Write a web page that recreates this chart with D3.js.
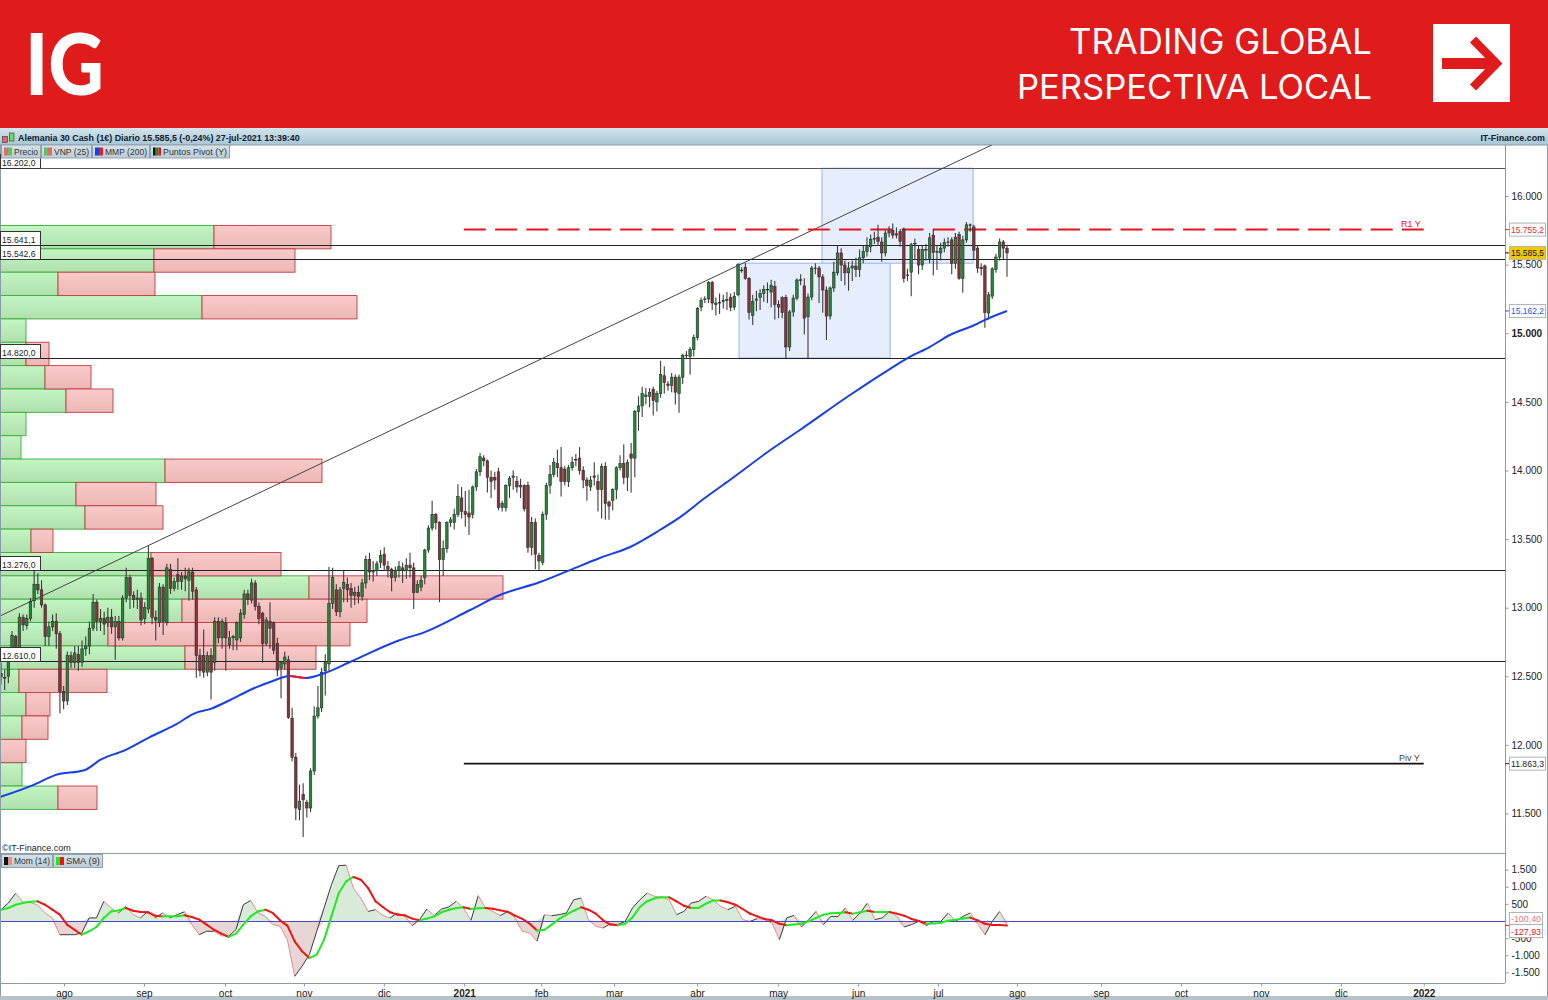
<!DOCTYPE html>
<html>
<head>
<meta charset="utf-8">
<style>
html, body { margin: 0; padding: 0; background: #fff; }
svg { display: block; }
text { font-family: "Liberation Sans", Arial, sans-serif; }
</style>
</head>
<body>
<div class="svgHolder"></div>
<script src="https://cdn.jsdelivr.net/npm/d3@7"></script>
<script>
// daily candles, first one is index -18, 10 per row
const firstCandle = -18
const opens = [
12520,12490,12500,12640,12790,12700,12930,12870,12920,13050,
13170,13130,13020,12790,12860,12900,12810,12390,12320,12650,
12600,12660,12600,12700,12720,12850,13040,12900,12920,12890,
12930,12860,12900,12780,13070,13220,13090,13060,13070,12920,
12990,13360,12930,12890,13150,12890,13280,13140,13240,13190,
13230,13200,13260,13130,12650,12650,12530,12650,12600,12900,
12780,12890,12730,12780,12765,12780,12950,13100,13055,13180,
13010,12960,12740,12900,12890,12740,12560,12590,12620,12195,
11910,11530,11640,11580,11540,11810,12210,12270,12540,12590,
13030,13130,12970,13140,13170,13140,13090,13110,13080,13180,
13350,13260,13270,13330,13390,13300,13280,13220,13270,13290,
13270,13310,13290,13110,13150,13220,13420,13580,13680,13620,
13350,13430,13620,13620,13680,13800,13700,13690,13680,13880,
13990,14090,14070,13950,13950,13990,13730,13730,13890,13950,
13920,13880,13890,13890,13440,13620,13380,13330,13680,13890,
13970,14050,14020,14010,13920,14020,14080,14090,14000,13930,
13880,13960,13920,13860,14030,13770,13780,13860,14020,14050,
13950,14120,14090,14430,14470,14540,14540,14590,14500,14560,
14690,14630,14620,14680,14560,14680,14840,14830,14880,14970,
15190,15250,15250,15370,15210,15220,15230,15240,15260,15190,
15280,15460,15480,15400,15130,15240,15260,15290,15320,15300,
15340,15210,15260,15260,14900,15155,15256,15390,15345,15120,
15264,15475,15475,15410,15315,15125,15330,15440,15585,15497,
15440,15475,15490,15465,15550,15595,15630,15690,15700,15665,
15585,15730,15750,15725,15740,15755,15425,15445,15655,15610,
15497,15605,15535,15715,15595,15585,15620,15665,15680,15510,
15720,15400,15680,15790,15775,15620,15480,15490,15147,15270,
15465,15555,15665,15620
]
const closes = [
12495,12489,12633,12799,12697,12931,12874,12920,13046,13171,
13130,13020,12790,12860,12900,12810,12390,12320,12650,12600,
12670,12600,12700,12720,12850,13040,12900,12920,12880,12930,
12860,12900,12780,13070,13220,13090,13060,13070,12910,13000,
13360,12930,12910,13150,12900,13290,13140,13190,13190,13230,
13210,13260,13120,12650,12540,12530,12650,12530,12900,12780,
12900,12780,12780,12790,12890,12960,13100,13060,13180,13010,
12920,12740,12910,12850,12690,12545,12600,12640,12200,11910,
11540,11590,11600,11540,11810,12210,12270,12530,12600,13030,
13220,12970,13130,13185,13130,13090,13110,13080,13180,13350,
13260,13270,13320,13380,13310,13280,13220,13270,13300,13270,
13310,13290,13110,13170,13200,13420,13580,13680,13620,13350,
13430,13620,13640,13680,13810,13700,13680,13660,13880,13990,
14100,14070,13950,13920,13930,13730,13760,13890,13940,13960,
13880,13890,13720,13440,13620,13390,13340,13680,13890,13970,
14060,14020,13920,13920,14020,14060,14080,14000,13930,13890,
13930,13950,13860,14030,13760,13740,13860,14020,14050,13950,
14060,14090,14430,14470,14560,14550,14570,14510,14560,14700,
14640,14620,14680,14570,14680,14840,14840,14880,14970,15180,
15240,15245,15370,15220,15220,15225,15240,15245,15190,15270,
15500,15460,15400,15150,15230,15250,15290,15320,15320,15350,
15210,15190,15150,14900,15155,15256,15388,15385,15110,15264,
15475,15475,15410,15315,15125,15330,15445,15585,15497,15440,
15475,15490,15465,15550,15595,15630,15685,15690,15670,15585,
15730,15745,15715,15715,15670,15400,15425,15645,15655,15497,
15610,15610,15695,15590,15595,15620,15660,15665,15510,15700,
15400,15680,15790,15785,15605,15475,15470,15150,15280,15470,
15555,15665,15620,15585.5
]
const highs = [
12600,12550,12680,12830,12800,12960,12950,12950,13070,13276,
13250,13200,13030,12900,12950,12960,12830,12430,12680,12680,
12720,12720,12760,12790,12900,13100,13060,12990,12970,13000,
12990,12940,12940,13090,13290,13240,13120,13130,13110,13040,
13450,13370,12980,13180,13170,13320,13320,13220,13360,13260,
13290,13290,13290,13150,12700,12840,12680,12705,12930,12930,
12920,12930,12830,12800,12900,12990,13130,13130,13210,13200,
13040,12970,12930,13040,12900,12780,12610,12680,12650,12270,
11940,11710,11720,11600,11830,12280,12430,12560,12660,13296,
13290,13170,13150,13270,13220,13180,13150,13160,13210,13380,
13400,13340,13340,13420,13440,13340,13290,13300,13340,13330,
13360,13400,13330,13200,13230,13430,13600,13780,13690,13630,
13490,13630,13660,13720,13900,13880,13850,13860,13890,14010,
14128,14110,14080,14000,13990,14020,13780,13900,13960,14000,
13960,13940,13900,13920,13660,13650,13400,13700,13910,14040,
14090,14150,14170,14030,14040,14100,14120,14170,14030,13950,
13960,14060,13970,14050,14060,13780,13870,14030,14110,14190,
14080,14200,14440,14540,14610,14600,14600,14610,14580,14800,
14760,14650,14710,14700,14700,14850,14870,14900,14990,15190,
15260,15270,15380,15380,15260,15290,15280,15300,15290,15300,
15510,15480,15510,15410,15280,15310,15320,15350,15370,15390,
15380,15240,15270,15280,15170,15280,15400,15430,15400,15290,
15490,15510,15490,15430,15340,15340,15520,15640,15620,15530,
15520,15530,15550,15610,15640,15700,15720,15740,15790,15700,
15750,15780,15800,15770,15760,15770,15470,15660,15690,15640,
15640,15650,15730,15760,15640,15660,15690,15700,15700,15730,
15740,15710,15810,15800,15790,15640,15510,15500,15300,15480,
15580,15690,15680,15640
]
const lows = [
12440,12400,12450,12620,12650,12690,12830,12840,12900,13000,
13100,13000,12720,12720,12830,12700,12230,12260,12290,12560,
12560,12540,12570,12650,12660,12830,12830,12830,12800,12860,
12810,12620,12760,12760,13040,12990,13000,12990,12870,12880,
12960,12880,12760,12860,12800,12870,13100,13120,13130,13130,
13120,13050,13060,12490,12500,12490,12500,12330,12540,12740,
12700,12540,12700,12690,12690,12750,12920,13020,13030,12980,
12880,12600,12720,12700,12660,12500,12340,12550,12190,11880,
11450,11450,11328,11470,11510,11780,12190,12240,12360,12540,
12990,12940,12930,13040,13040,13000,13020,13030,13050,13140,
13200,13190,13230,13290,13270,13220,13120,13190,13220,13180,
13210,13220,12990,13110,13120,13170,13400,13560,13570,13040,
13230,13400,13590,13570,13660,13650,13590,13530,13650,13850,
13960,14030,13840,13800,13860,13710,13700,13700,13800,13860,
13840,13800,13700,13400,13380,13280,13270,13310,13640,13830,
13950,13950,13810,13890,13880,14000,14030,13970,13870,13780,
13850,13890,13700,13650,13640,13640,13710,13790,14000,13900,
13850,13840,13950,14290,14390,14480,14460,14400,14430,14530,
14560,14580,14570,14480,14420,14630,14810,14700,14830,14950,
15160,15220,15220,15170,15130,15140,15180,15170,15160,15170,
15270,15440,15390,15100,15060,15160,15170,15230,15220,15190,
15100,15110,15110,14820,14870,15120,15240,15350,14990,14820,
15240,15430,15220,15150,14950,15100,15300,15420,15380,15350,
15310,15380,15410,15410,15510,15560,15590,15650,15640,15520,
15560,15700,15690,15690,15630,15370,15380,15270,15540,15430,
15460,15530,15510,15420,15460,15530,15590,15630,15430,15470,
15390,15295,15660,15740,15540,15440,15420,15040,15100,15250,
15440,15530,15540,15412
]

// VNP (25) rows from the top of the profile down, bar lengths
const profileTop = 15785
const profileBottom = 11530
const volBuy = [214,154,58,202,26,26,45,66,26,21,165,76,85,31,151,309,182,108,185,19,26,22,0,22,58]
const volSell = [117,141,97,155,0,23,46,47,0,0,157,80,78,22,130,194,185,242,131,88,24,26,26,0,39]

// MMP (200)
const maIndex = [-18.3,-9.3,-3.3,4.8,8.9,15.7,22.4,29.2,34.7,38.7,44.2,49.6,55,60.4,64.5,69.9,76.7,90.3,97,109.3,117.4,128.3,136.4,144.5,152.7,160.8,166.3,173,179.8,190.8,198.8,212.4,223.2,228.6,234,239.5,246.2,248.9,255]
const maValues = [11620,11707,11780,11817,11890,11962,12057,12145,12232,12261,12327,12400,12458,12502,12487,12524,12604,12764,12822,12983,13092,13187,13274,13362,13442,13566,13660,13799,13930,14149,14295,14550,14739,14827,14899,14987,15060,15096,15162.2]

// horizontal levels with the box on the left
const levels = [16202, 15641.1, 15542.6, 14820, 13276, 12610]
// pivots
const pivotNames = ["R1 Y", "Piv Y"]
const pivotValues = [15755.2, 11863.3]
const pivotRange = [108.5, 369]
// trend line ends: index, price
const trendIndex = [-17.4, 251.8]
const trendPrice = [12939, 16372]
// shaded boxes: index from, index to, price low, price high
const boxStart = [183.2, 205.7]
const boxEnd = [224.2, 246.7]
const boxLow = [14820, 15510]
const boxHigh = [15510, 16202]

// Mom (14) and SMA (9), read every second candle or so
const momValues = [
330,525,815,545,545,465,235,90,-400,-400,-400,-350,90,90,575,380,235,430,185,90,
280,90,235,90,185,270,-105,-400,-300,-300,-430,-445,-255,475,600,235,135,-105,-155,-545,
-1615,-1320,-980,-300,380,1060,1615,1630,960,670,280,330,165,90,235,
135,-135,40,350,155,350,410,575,380,20,740,380,280,155,280,90,-300,-350,-590,185,
155,185,235,620,670,40,-155,-205,-80,-105,-10,380,620,815,720,700,620,185,280,525,
575,720,620,430,330,430,40,-10,70,40,-60,-545,90,165,-175,40,280,-105,135,135,
380,20,235,525,40,90,280,135,-175,-105,-10,-135,-10,-10,235,-10,135,235,-80,-400,
-10,280,-100.4
]
const smaValues = [
330,380,475,525,565,575,475,330,185,-105,-255,-400,-300,-175,90,280,310,380,300,260,
255,155,135,135,135,165,115,40,-105,-255,-370,-465,-370,-105,135,280,330,235,20,-135,
-595,-885,-1080,-980,-545,135,815,1155,1285,1205,960,575,410,255,185,
165,70,20,70,135,255,330,380,400,350,370,380,360,310,270,155,60,-80,-280,-255,
-105,60,185,300,400,330,215,20,-105,-125,-80,105,410,575,660,690,690,575,445,380,
380,505,600,600,545,475,350,215,135,60,20,-80,-125,-100,-80,-10,90,185,225,235,
255,215,255,300,260,260,260,215,155,60,0,-80,-70,-50,10,40,70,100,20,-80,
-115,-120,-127.93
]

// axes
const priceTicks = [11500,12000,12500,13000,13500,14000,14500,15000,15500,16000]
const momTicks = [-1500,-1000,-500,500,1000,1500]
const monthLabels = ["ago","sep","oct","nov","dic","2021","feb","mar","abr","may","jun","jul","ago","sep","oct","nov","dic","2022"]
const monthIndex = [0,21.7,43.7,65.1,86.8,108.6,129.5,149.3,171.8,193.8,215.5,237.2,258.6,281.4,303.1,324.8,346.5,369]

const wd = 1548
const ht = 1000
const plotLeft = 1
const plotRight = 1505
const mainTop = 145
const mainBottom = 853
const momBottom = 983
const axisCol = "#8a9ba8"

const fmt = d3.formatLocale({decimal: ",", thousands: ".", grouping: [3], currency: ["", ""], minus: "-"})
const fmtInt = fmt.format(",.0f")
const fmt1 = fmt.format(",.1f")
const fmt2 = fmt.format(",.2f")

const svg = d3.select(".svgHolder").append("svg")
.attr("width", wd)
.attr("height", ht)
.attr("viewBox", "0 0 " + wd + " " + ht)

const defs = svg.append("defs")
function vGrad(id, a, b) {
  const g = defs.append("linearGradient").attr("id", id).attr("x1", 0).attr("x2", 0).attr("y1", 0).attr("y2", 1)
  g.append("stop").attr("offset", "0%").attr("stop-color", a)
  g.append("stop").attr("offset", "100%").attr("stop-color", b)
}
vGrad("buyGrad", "#c2f6c2", "#b0dfae")
vGrad("sellGrad", "#fbcaca", "#ebb6b6")
vGrad("titleGrad", "#d4e4ec", "#a6c6d6")
vGrad("btnGrad", "#d6e2e8", "#bccdd6")

defs.append("clipPath").attr("id", "mainClip").append("rect")
.attr("x", plotLeft).attr("y", mainTop).attr("width", plotRight - plotLeft).attr("height", mainBottom - mainTop)
defs.append("clipPath").attr("id", "momClip").append("rect")
.attr("x", plotLeft).attr("y", mainBottom).attr("width", plotRight - plotLeft).attr("height", momBottom - mainBottom)

// scales
const x = d3.scaleLinear().domain([0, 369]).range([64, 64 + 369 * 3.685])
const candleShift = 0.9 // candles sit a bit right of the month ticks
const y = d3.scaleLinear().domain([11500, 16000]).range([813.5, 196])
const yMom = d3.scaleLinear().domain([-1500, 1500]).range([972.4, 869.6])
const rowScale = d3.scaleBand().domain(d3.range(volBuy.length)).range([y(profileTop), y(profileBottom)])
const volX = d3.scaleLinear().domain([0, 600]).range([0, 600])

// header
svg.append("rect").attr("width", wd).attr("height", 128).attr("fill", "#e01b1c")
svg.append("text").text("IG")
.attr("x", 25).attr("y", 95)
.attr("textLength", 79).attr("lengthAdjust", "spacingAndGlyphs")
.style("font-family", "Lato").style("font-weight", 900).style("font-size", "85px")
.attr("fill", "#fff")
svg.append("text").text("TRADING GLOBAL")
.attr("x", 1372).attr("y", 54).attr("text-anchor", "end")
.style("font-family", "Inter").style("font-weight", 400).style("font-size", "34.8px")
.attr("fill", "#fff")
svg.append("text").text("PERSPECTIVA LOCAL")
.attr("x", 1372).attr("y", 98.5).attr("text-anchor", "end")
.style("font-family", "Inter").style("font-weight", 400).style("font-size", "34.6px")
.attr("fill", "#fff")
svg.append("rect").attr("x", 1433).attr("y", 24).attr("width", 77).attr("height", 78).attr("fill", "#fff")
svg.append("path").attr("d", "M1442 63.5H1494").attr("stroke", "#e01b1c").attr("stroke-width", 11).attr("fill", "none")
svg.append("path").attr("d", "M1473 39.5L1496.5 63.5L1473 87.5").attr("stroke", "#e01b1c").attr("stroke-width", 8.5).attr("fill", "none")

// title bar
svg.append("rect").attr("y", 128).attr("width", wd).attr("height", 17).attr("fill", "url(#titleGrad)")
svg.append("line").attr("x1", 0).attr("x2", wd).attr("y1", 145).attr("y2", 145).attr("stroke", axisCol)
svg.append("rect").attr("x", 2.5).attr("y", 136.5).attr("width", 5).attr("height", 6).attr("fill", "#f06060").attr("stroke", "#333").attr("stroke-width", 0.6)
svg.append("rect").attr("x", 9.5).attr("y", 133).attr("width", 4.5).attr("height", 8).attr("fill", "#60e060").attr("stroke", "#333").attr("stroke-width", 0.6)
svg.append("text").text("Alemania 30 Cash (1€) Diario 15.585,5 (-0,24%) 27-jul-2021 13:39:40")
.attr("x", 18).attr("y", 140.5).style("font-weight", 700).style("font-size", "8.9px").attr("fill", "#10202c")
svg.append("text").text("IT-Finance.com")
.attr("x", 1545).attr("y", 140.5).attr("text-anchor", "end").style("font-weight", 700).style("font-size", "8.9px").attr("fill", "#10202c")

// plot groups, back to front
const main = svg.append("g").attr("clip-path", "url(#mainClip)")
const profileGroup = main.append("g")
const boxGroup = main.append("g")
const lineGroup = main.append("g")
const candleGroup = main.append("g")
const maGroup = main.append("g")

// volume profile
const rows = volBuy.map((d, i) => ({i: i, buy: d, sell: volSell[i]}))
profileGroup.selectAll(".buy").data(rows.filter(d => d.buy > 0)).enter().append("rect")
.attr("x", plotLeft - 2)
.attr("y", d => rowScale(d.i))
.attr("width", d => volX(d.buy) + 1)
.attr("height", rowScale.bandwidth())
.attr("fill", "url(#buyGrad)").attr("stroke", "#3aac3a").attr("stroke-width", 0.9)
profileGroup.selectAll(".sell").data(rows.filter(d => d.sell > 0)).enter().append("rect")
.attr("x", d => plotLeft - 1 + volX(d.buy))
.attr("y", d => rowScale(d.i))
.attr("width", d => volX(d.sell))
.attr("height", rowScale.bandwidth())
.attr("fill", "url(#sellGrad)").attr("stroke", "#bf3c3c").attr("stroke-width", 0.9)

// shaded boxes
boxGroup.selectAll("rect").data(boxStart.map((d, i) => i)).enter().append("rect")
.attr("x", i => x(boxStart[i]))
.attr("y", i => y(boxHigh[i]))
.attr("width", i => x(boxEnd[i]) - x(boxStart[i]))
.attr("height", i => y(boxLow[i]) - y(boxHigh[i]))
.attr("fill", "#e6edfd").attr("stroke", "#a3c1f4").attr("stroke-width", 1.2)

// candles
const candles = closes.map((d, i) => ({k: firstCandle + i + candleShift, o: opens[i], c: d, h: highs[i], l: lows[i]}))
candleGroup.selectAll("line").data(candles).enter().append("line")
.attr("x1", d => x(d.k)).attr("x2", d => x(d.k))
.attr("y1", d => y(d.h)).attr("y2", d => y(d.l))
.attr("stroke", "#3c3c3c").attr("stroke-width", 1.1)
candleGroup.selectAll("rect").data(candles).enter().append("rect")
.attr("x", d => x(d.k) - 1.25)
.attr("y", d => y(Math.max(d.o, d.c)))
.attr("width", 2.5)
.attr("height", d => Math.max(Math.abs(y(d.o) - y(d.c)), 0.6))
.attr("fill", d => d.c >= d.o ? "#1f8a32" : "#8b3038")
.attr("stroke", "#2c2c2c").attr("stroke-width", 0.6)

// horizontal levels
lineGroup.selectAll(".level").data(levels).enter().append("line")
.attr("x1", plotLeft).attr("x2", plotRight)
.attr("y1", d => Math.round(y(d)) + 0.5).attr("y2", d => Math.round(y(d)) + 0.5)
.attr("stroke", (d, i) => i == 0 ? "#555" : "#222").attr("stroke-width", 1)

// trend line
lineGroup.append("line")
.attr("x1", x(trendIndex[0])).attr("y1", y(trendPrice[0]))
.attr("x2", x(trendIndex[1])).attr("y2", y(trendPrice[1]))
.attr("stroke", "#444").attr("stroke-width", 1)

// pivots
lineGroup.append("line")
.attr("x1", x(pivotRange[0])).attr("x2", x(pivotRange[1]))
.attr("y1", y(pivotValues[0])).attr("y2", y(pivotValues[0]))
.attr("stroke", "#e8141c").attr("stroke-width", 2).attr("stroke-dasharray", "22,9.27")
lineGroup.append("line")
.attr("x1", x(pivotRange[0])).attr("x2", x(pivotRange[1]))
.attr("y1", y(pivotValues[1])).attr("y2", y(pivotValues[1]))
.attr("stroke", "#111").attr("stroke-width", 1.8)
lineGroup.append("text").text(pivotNames[0])
.attr("x", x(pivotRange[1]) - 3).attr("y", y(pivotValues[0]) - 3).attr("text-anchor", "end")
.style("font-size", "9px").attr("fill", "#e8141c")
lineGroup.append("text").text(pivotNames[1])
.attr("x", x(pivotRange[1]) - 4).attr("y", y(pivotValues[1]) - 2.5).attr("text-anchor", "end")
.style("font-size", "9px").attr("fill", "#444")

// MMP line, red where it falls
const maPts = maValues.map((d, i) => ({k: maIndex[i] + candleShift, v: d}))
const maLine = d3.line().x(d => x(d.k)).y(d => y(d.v)).curve(d3.curveMonotoneX)
maGroup.append("path").attr("d", maLine(maPts)).attr("fill", "none").attr("stroke", "#1740e6").attr("stroke-width", 2)
for (let i = 1; i < maPts.length; i++) {
  if (maPts[i].v < maPts[i - 1].v) {
    maGroup.append("path").attr("d", maLine([maPts[i - 1], maPts[i]])).attr("fill", "none").attr("stroke", "#ee1c1c").attr("stroke-width", 2)
  }
}

main.append("text").text("©IT-Finance.com")
.attr("x", 2).attr("y", 851).style("font-size", "9px").attr("fill", "#222")

// frame + price axis
svg.append("line").attr("x1", plotRight + 0.5).attr("x2", plotRight + 0.5).attr("y1", mainTop).attr("y2", momBottom).attr("stroke", axisCol)
svg.append("line").attr("x1", 0.5).attr("x2", 0.5).attr("y1", mainTop).attr("y2", ht).attr("stroke", axisCol)
svg.append("line").attr("x1", wd - 0.5).attr("x2", wd - 0.5).attr("y1", mainTop).attr("y2", ht).attr("stroke", axisCol)
svg.append("line").attr("x1", 0).attr("x2", plotRight).attr("y1", mainBottom + 0.5).attr("y2", mainBottom + 0.5).attr("stroke", axisCol)
svg.append("line").attr("x1", 0).attr("x2", plotRight).attr("y1", momBottom + 0.5).attr("y2", momBottom + 0.5).attr("stroke", axisCol)
svg.append("rect").attr("y", 996).attr("width", wd).attr("height", 4).attr("fill", "#b4c2ca")

function styleAxis(g) {
  g.select(".domain").remove()
  g.selectAll("line").attr("stroke", axisCol)
  g.selectAll("text").style("font-family", "Liberation Sans").style("font-size", "10px").attr("fill", "#222")
}

svg.append("g").attr("transform", "translate(" + (plotRight + 0.5) + ",0)")
.call(d3.axisRight(y).tickValues(priceTicks).tickFormat(fmtInt).tickSize(3).tickPadding(3))
.call(styleAxis)
.selectAll("text").style("font-weight", d => d == 15000 ? 700 : 400)

svg.append("g").attr("transform", "translate(" + (plotRight + 0.5) + ",0)")
.call(d3.axisRight(yMom).tickValues(momTicks).tickFormat(fmtInt).tickSize(3).tickPadding(3))
.call(styleAxis)

svg.append("g").attr("transform", "translate(0," + (momBottom + 0.5) + ")")
.call(d3.axisBottom(x).tickValues(monthIndex).tickFormat((d, i) => monthLabels[i]).tickSize(3).tickPadding(3))
.call(styleAxis)
.selectAll("text").style("font-weight", (d, i) => monthLabels[i].length == 4 ? 700 : 400)

// value boxes on both sides
function valueBox(bx, by, w, h, label, txtCol, bg, stroke, txtW) {
  svg.append("rect").attr("x", bx).attr("y", by).attr("width", w).attr("height", h)
  .attr("fill", bg).attr("stroke", stroke).attr("stroke-width", 1)
  svg.append("text").text(label).attr("x", bx + 1.5).attr("y", by + h - 3)
  .attr("textLength", txtW).attr("lengthAdjust", "spacingAndGlyphs")
  .style("font-size", "9.2px").attr("fill", txtCol)
}
levels.forEach(d => {
  const yy = Math.round(y(d))
  valueBox(0.5, yy - 13.5, 40, 14, fmt1(d), "#222", "#fff", "#333", 33.5)
})

valueBox(1509.5, y(15755.2) - 6.5, 36, 13, fmt1(15755.2), "#ee2c2c", "#fff", "#a9b6bf", 33)
valueBox(1509.5, y(15585.5) - 6.5, 36, 13, fmt1(15585.5), "#111", "#f6c800", "#a9b6bf", 33)
valueBox(1509.5, y(15162.2) - 6.5, 36, 13, fmt1(15162.2), "#2a55e6", "#fff", "#a9b6bf", 33)
valueBox(1509.5, y(11863.3) - 6.5, 36, 13, fmt1(11863.3), "#222", "#fff", "#a9b6bf", 33)
svg.append("line").attr("x1", plotRight).attr("x2", plotRight + 4).attr("y1", y(15755.2)).attr("y2", y(15755.2)).attr("stroke", "#ee2c2c")
svg.append("line").attr("x1", plotRight).attr("x2", plotRight + 4).attr("y1", y(15585.5)).attr("y2", y(15585.5)).attr("stroke", "#111")
svg.append("line").attr("x1", plotRight).attr("x2", plotRight + 4).attr("y1", y(15162.2)).attr("y2", y(15162.2)).attr("stroke", "#2a55e6")
svg.append("line").attr("x1", plotRight).attr("x2", plotRight + 4).attr("y1", y(11863.3)).attr("y2", y(11863.3)).attr("stroke", "#222")

// legend buttons
function legendBtn(bx, by, w, label, swatches) {
  svg.append("rect").attr("x", bx + 0.5).attr("y", by + 0.5).attr("width", w).attr("height", 13)
  .attr("fill", "url(#btnGrad)").attr("stroke", "#8fa2ae")
  swatches.forEach((c, i) => {
    const sw = 8 / swatches.length
    svg.append("rect").attr("x", bx + 3 + i * sw).attr("y", by + 3).attr("width", sw).attr("height", 8).attr("fill", c)
  })
  svg.append("text").text(label).attr("x", bx + 13).attr("y", by + 10)
  .attr("textLength", w - 15).attr("lengthAdjust", "spacingAndGlyphs")
  .style("font-size", "9.5px").attr("fill", "#333")
}
legendBtn(1, 144.5, 39, "Precio", ["#e86868", "#58c468"])
legendBtn(41, 144.5, 50, "VNP (25)", ["#58c468", "#e86868"])
legendBtn(92, 144.5, 57, "MMP (200)", ["#1740e6", "#ee1c1c"])
legendBtn(150, 144.5, 79, "Puntos Pivot (Y)", ["#111", "#1c8c2c", "#e01b1c"])

// momentum panel
const momK = momValues.map((d, i) => firstCandle + candleShift + i * 273 / (momValues.length - 1))
const momPts = momValues.map((d, i) => ({k: momK[i], v: d}))
const smaPts = smaValues.map((d, i) => ({k: momK[i], v: d}))
const momGroup = svg.append("g").attr("clip-path", "url(#momClip)")

const areaUp = d3.area().x(d => x(d.k)).y0(yMom(0)).y1(d => yMom(Math.max(d.v, 0)))
const areaDn = d3.area().x(d => x(d.k)).y0(yMom(0)).y1(d => yMom(Math.min(d.v, 0)))
momGroup.append("path").attr("d", areaUp(momPts)).attr("fill", "#d8ebd8")
momGroup.append("path").attr("d", areaDn(momPts)).attr("fill", "#e8d6d6")

const lineMom = d3.line().x(d => x(d.k)).y(d => yMom(d.v))
for (let i = 1; i < momPts.length; i++) {
  momGroup.append("path").attr("d", lineMom([momPts[i - 1], momPts[i]])).attr("fill", "none")
  .attr("stroke", momPts[i].v >= momPts[i - 1].v ? "#3a3a3a" : "#e48e8e").attr("stroke-width", 1)
}
momGroup.append("line").attr("x1", plotLeft).attr("x2", plotRight)
.attr("y1", Math.floor(yMom(0)) + 0.5).attr("y2", Math.floor(yMom(0)) + 0.5)
.attr("stroke", "#4a4ac8").attr("stroke-width", 1)
for (let i = 1; i < smaPts.length; i++) {
  momGroup.append("path").attr("d", lineMom([smaPts[i - 1], smaPts[i]])).attr("fill", "none")
  .attr("stroke", smaPts[i].v >= smaPts[i - 1].v ? "#22ea22" : "#ee1414").attr("stroke-width", 2).attr("stroke-linecap", "round")
}

legendBtn(1, 854, 51, "Mom (14)", ["#111", "#e48e8e"])
legendBtn(53, 854, 49, "SMA (9)", ["#22ea22", "#ee1414"])

valueBox(1509.5, 912.5, 33, 12, fmt2(-100.4), "#e07a7a", "#fff", "#a9b6bf", 30)
valueBox(1509.5, 924.5, 33, 13, fmt2(-127.93), "#ee1414", "#fff", "#a9b6bf", 30)
svg.append("line").attr("x1", plotRight).attr("x2", plotRight + 4).attr("y1", yMom(-127.93)).attr("y2", yMom(-127.93)).attr("stroke", "#ee1414")
</script>
</body>
</html>
